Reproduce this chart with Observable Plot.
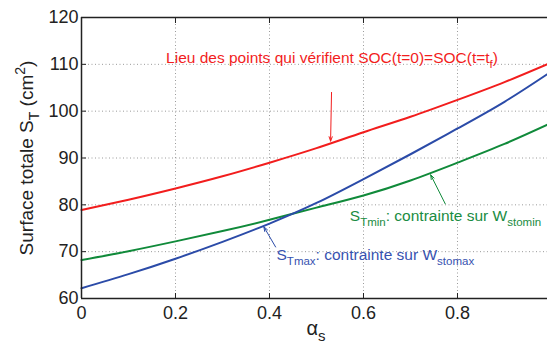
<!DOCTYPE html>
<html>
<head>
<meta charset="utf-8">
<script src="https://cdn.jsdelivr.net/npm/d3@7"></script>
<script src="https://cdn.jsdelivr.net/npm/@observablehq/plot@0.6"></script>
<style>
  html, body { margin: 0; padding: 0; background: #fff; }
  svg { display: block; }
</style>
</head>
<body>
<div id="chart"></div>
<script>
// ---- data ----
const alpha = [0, 0.1, 0.2, 0.3, 0.4, 0.5, 0.6, 0.7, 0.8, 0.9, 1.0];
const socCurve = [78.9, 81.1, 83.5, 86.1, 89.0, 92.1, 95.5, 98.8, 102.4, 106.2, 110.4];
const stMaxCurve = [62.2, 65.2, 68.5, 72.1, 76.0, 80.4, 85.5, 90.8, 96.3, 102.0, 108.5];
const stMinCurve = [68.2, 70.1, 72.2, 74.4, 76.8, 79.4, 82.0, 85.2, 89.0, 93.0, 97.5];
const xTicks = [0, 0.2, 0.4, 0.6, 0.8];
const yTicks = [60, 70, 80, 90, 100, 110, 120];

const redLabel = ["Lieu des points qui vérifient SOC(t=0)=SOC(t=t", "f", ")"];
const greenLabel = ["S", "Tmin", ": contrainte sur W", "stomin"];
const blueLabel = ["S", "Tmax", ": contrainte sur W", "stomax"];
const yLabel = ["Surface totale S", "T", " (cm", "2", ")"];
const xLabel = ["α", "s"];

const RED = "#f21d1d", BLUE = "#2b4ba8", GREEN = "#108a3a";
const XMAX = 0.9915;
const W = 547, H = 342, ML = 81, MT = 17, MB = 44, MR = 0;

const rows = (vals, s) => alpha.map((a, i) => ({a, v: vals[i], s}));
const red = rows(socCurve, "soc");
const blue = rows(stMaxCurve, "max");
const green = rows(stMinCurve, "min");

// annotation arrows (data coordinates)
const arrows = [
  {x1: 0.532, y1: 104.0, x2: 0.530, y2: 93.6, c: RED},
  {x1: 0.774, y1: 80.2, x2: 0.743, y2: 86.4, c: GREEN},
  {x1: 0.413, y1: 71.0, x2: 0.388, y2: 75.3, c: BLUE}
];

const font = "'Liberation Sans', Arial, Helvetica, sans-serif";

const plot = Plot.plot({
  width: W, height: H,
  marginLeft: ML, marginRight: MR, marginTop: MT, marginBottom: MB,
  x: {domain: [0, XMAX]},
  y: {domain: [60, 120]},
  style: {fontFamily: font, fontSize: "18px", color: "#222", background: "#fff"},
  marks: [
    Plot.gridX(xTicks.slice(1), {stroke: "#9a9a9a", strokeOpacity: 1, strokeWidth: 1, strokeDasharray: "1,2.5"}),
    Plot.gridY(yTicks.slice(1, -1), {stroke: "#9a9a9a", strokeOpacity: 1, strokeWidth: 1, strokeDasharray: "1,2.5"}),
    Plot.line(red, {x: "a", y: "v", stroke: RED, strokeWidth: 2, curve: "natural"}),
    Plot.line(green, {x: "a", y: "v", stroke: GREEN, strokeWidth: 2, curve: "natural"}),
    Plot.line(blue, {x: "a", y: "v", stroke: BLUE, strokeWidth: 2, curve: "natural"}),
    Plot.arrow(arrows, {x1: "x1", y1: "y1", x2: "x2", y2: "y2", stroke: "c", strokeWidth: 1, headLength: 7, headAngle: 40}),
    Plot.ruleY([60, 120], {stroke: "#222", strokeWidth: 1.5}),
    Plot.ruleX([0], {stroke: "#222", strokeWidth: 1.5}),
    Plot.axisX({ticks: xTicks, tickSize: 0, tickPadding: 8, label: null, fontSize: 18, tickFormat: d => String(d)}),
    Plot.axisY({ticks: yTicks, tickSize: 0, tickPadding: 3, label: null, fontSize: 18, tickFormat: d => String(d)}),
    Plot.axisX({ticks: xTicks.slice(1), anchor: "bottom", tickSize: -5, fill: "none", label: null, stroke: "#222"}),
    Plot.axisX({ticks: xTicks.slice(1), anchor: "top", tickSize: -5, fill: "none", label: null, stroke: "#222"}),
    Plot.axisY({ticks: yTicks.slice(1, -1), anchor: "left", tickSize: -5, fill: "none", label: null, stroke: "#222"})
  ]
});

document.getElementById("chart").appendChild(plot);

// ---- rich text (subscripts / superscripts) placed through the plot's scales ----
const sx = plot.scale("x"), sy = plot.scale("y");
const svg = d3.select(plot);

function rich(parts, kinds, x, y, opts) {
  const {color = "#222", size = 15.5, sub = 11.5, anchor = "start", rotate = 0} = opts;
  const t = svg.append("text")
    .attr("fill", color)
    .attr("font-family", font)
    .attr("font-size", size)
    .attr("text-anchor", anchor)
    .attr("transform", `translate(${x},${y}) rotate(${rotate})`);
  let shift = 0;
  parts.forEach((p, i) => {
    const k = kinds[i];
    const target = k === "sub" ? size * 0.3 : k === "sup" ? -size * 0.4 : 0;
    t.append("tspan")
      .attr("dy", target - shift)
      .attr("font-size", k ? sub : size)
      .text(p);
    shift = target;
  });
  return t;
}

rich(redLabel, ["", "sub", ""], sx.apply(0.181), sy.apply(110.2), {color: RED});
rich(greenLabel, ["", "sub", "", "sub"], sx.apply(0.572), sy.apply(76.4), {color: "#1a8c42"});
rich(blueLabel, ["", "sub", "", "sub"], sx.apply(0.416), sy.apply(68.1), {color: "#3752b0"});
rich(yLabel, ["", "sub", "", "sup", ""], 33, 158, {size: 19, sub: 14, anchor: "middle", rotate: -90});
rich(xLabel, ["", "sub"], 316, 335, {size: 20, sub: 15, anchor: "middle"});
</script>
</body>
</html>
